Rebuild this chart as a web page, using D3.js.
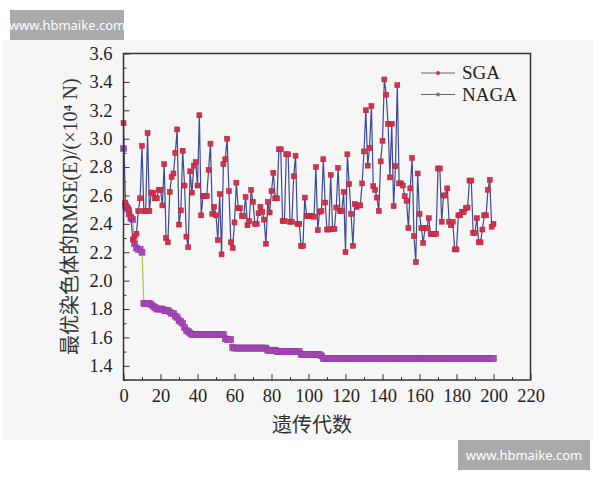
<!DOCTYPE html>
<html><head><meta charset="utf-8">
<script src="https://cdn.jsdelivr.net/npm/d3@7"></script>
<style>body{margin:0;background:#fff}</style>
</head><body>
<script>
const generations = d3.range(0, 201);
const sgaValues = [
3.11,2.55,2.52,2.50,2.45,2.29,2.31,2.33,2.49,2.58,
2.95,2.49,2.49,3.04,2.49,2.62,2.62,2.58,2.58,2.64,
2.64,2.53,2.82,2.30,2.27,2.625,2.73,2.755,2.90,3.065,
2.395,2.495,2.915,2.67,2.31,2.235,2.77,2.62,2.81,2.835,
2.67,3.165,2.46,2.595,2.595,2.595,2.78,2.965,2.47,2.52,
2.46,2.285,2.61,2.185,2.82,2.855,3.0,2.63,2.27,2.23,
2.41,2.69,2.51,2.51,2.455,2.455,2.59,2.39,2.42,2.64,
2.555,2.40,2.40,2.475,2.52,2.485,2.43,2.26,2.555,2.48,
2.63,2.76,2.58,2.58,2.925,2.925,2.42,2.42,2.89,2.89,
2.415,2.415,2.735,2.88,2.40,2.40,2.245,2.245,2.585,2.455,
2.455,2.455,2.455,2.45,2.80,2.355,2.485,2.49,2.855,2.55,
2.36,2.36,2.745,2.365,2.365,2.515,2.795,2.49,2.49,2.625,
2.20,2.89,2.68,2.47,2.245,2.54,2.52,2.53,2.53,2.685,
2.91,3.20,2.81,2.935,3.23,2.665,2.64,2.585,2.49,2.84,
2.985,3.417,3.31,3.105,2.727,3.105,2.525,2.806,3.377,2.685,
2.685,2.67,2.595,2.563,2.37,2.65,2.865,2.313,2.13,2.755,
2.47,2.37,2.265,2.37,2.37,2.44,2.33,2.33,2.33,2.33,
2.79,2.79,2.415,2.60,2.60,2.65,2.415,2.39,2.415,2.22,
2.22,2.46,2.46,2.485,2.485,2.51,2.515,2.705,2.705,2.336,
2.336,2.44,2.27,2.27,2.36,2.46,2.46,2.64,2.71,2.38,
2.40];
const nagaValues = [
2.93,2.53,2.51,2.47,2.44,2.43,2.26,2.23,2.22,2.22,
2.20,1.84,1.84,1.84,1.84,1.83,1.82,1.81,1.80,1.80,
1.80,1.80,1.79,1.79,1.79,1.78,1.77,1.77,1.75,1.74,
1.72,1.71,1.70,1.67,1.65,1.64,1.63,1.62,1.62,1.62,
1.62,1.62,1.62,1.62,1.62,1.62,1.62,1.62,1.62,1.62,
1.62,1.62,1.62,1.62,1.62,1.59,1.585,1.585,1.585,1.53,
1.525,1.525,1.525,1.525,1.525,1.525,1.525,1.525,1.525,1.525,
1.525,1.525,1.525,1.525,1.525,1.525,1.525,1.525,1.51,1.51,
1.51,1.51,1.51,1.50,1.50,1.50,1.50,1.50,1.50,1.50,
1.50,1.50,1.50,1.50,1.50,1.50,1.48,1.48,1.48,1.48,
1.48,1.48,1.48,1.48,1.48,1.48,1.48,1.47,1.452,1.452,
1.452,1.452,1.452,1.452,1.452,1.452,1.452,1.452,1.452,1.452,
1.452,1.452,1.452,1.452,1.452,1.452,1.452,1.452,1.452,1.452,
1.452,1.452,1.452,1.452,1.452,1.452,1.452,1.452,1.452,1.452,
1.452,1.452,1.452,1.452,1.452,1.452,1.452,1.452,1.452,1.452,
1.452,1.452,1.452,1.452,1.452,1.452,1.452,1.452,1.452,1.452,
1.452,1.452,1.452,1.452,1.452,1.452,1.452,1.452,1.452,1.452,
1.452,1.452,1.452,1.452,1.452,1.452,1.452,1.452,1.452,1.452,
1.452,1.452,1.452,1.452,1.452,1.452,1.452,1.452,1.452,1.452,
1.452,1.452,1.452,1.452,1.452,1.452,1.452,1.452,1.452,1.452,
1.452];
const seriesNames = ["SGA", "NAGA"];
const xTicks = [0,20,40,60,80,100,120,140,160,180,200,220];
const yTicks = [1.4,1.6,1.8,2.0,2.2,2.4,2.6,2.8,3.0,3.2,3.4,3.6];
const xTitle = "遗传代数";
const yTitle = "最优染色体的RMSE(E)/(×10⁴ N)";
const watermark = "www.hbmaike.com";

const W = 600, H = 480;
const svg = d3.select("body").append("svg").attr("width", W).attr("height", H);
svg.append("rect").attr("x",3).attr("y",40).attr("width",590).attr("height",400).attr("fill","#f6f6f6");

const L = 123.5, R = 530.5, T = 53.5, B = 380;
const x = d3.scaleLinear().domain([0,220]).range([L,R]);
const y = d3.scaleLinear().domain([1.3,3.6]).range([B,T]);
const serif = "'Liberation Serif','Times New Roman',serif";

// minor ticks
const g = svg.append("g");
g.append("g").attr("transform",`translate(0,${B})`)
  .call(d3.axisBottom(x).tickValues(d3.range(10,220,20)).tickSize(-3).tickFormat(""))
  .call(a=>{a.select(".domain").remove(); a.selectAll("line").attr("stroke","#333");});
g.append("g").attr("transform",`translate(${L},0)`)
  .call(d3.axisLeft(y).tickValues(d3.range(1.3,3.6,0.2)).tickSize(-3).tickFormat(""))
  .call(a=>{a.select(".domain").remove(); a.selectAll("line").attr("stroke","#333");});

const xa = g.append("g").attr("transform",`translate(0,${B})`)
  .call(d3.axisBottom(x).tickValues(xTicks).tickSize(-6).tickPadding(9).tickFormat(d3.format("d")));
const ya = g.append("g").attr("transform",`translate(${L},0)`)
  .call(d3.axisLeft(y).tickValues(yTicks).tickSize(-6).tickPadding(11).tickFormat(d3.format(".1f")));
[xa,ya].forEach(a=>{
  a.select(".domain").remove();
  a.selectAll("line").attr("stroke","#333");
  a.selectAll("text").attr("font-family",serif).attr("font-size",18.5).attr("fill","#222");
});

// lines
const sgaData = generations.map((gen,i)=>({gen, v:sgaValues[i]}));
const nagaData = generations.map((gen,i)=>({gen, v:nagaValues[i]}));
const line = d3.line().x(d=>x(d.gen)).y(d=>y(d.v));

svg.append("path").datum(nagaData).attr("d",line).attr("fill","none").attr("stroke","#b5c838").attr("stroke-width",1.2);
svg.append("g").selectAll("rect").data(nagaData).join("rect")
  .attr("x",d=>x(d.gen)-3).attr("y",d=>y(d.v)-3).attr("width",6).attr("height",6)
  .attr("fill","#a848b8").attr("stroke","#8c3a9c").attr("stroke-width",0.5);

svg.append("path").datum(sgaData).attr("d",line).attr("fill","none").attr("stroke","#3e4a95").attr("stroke-width",1.2);
svg.append("g").selectAll("rect").data(sgaData).join("rect")
  .attr("x",d=>x(d.gen)-2.5).attr("y",d=>y(d.v)-2.5).attr("width",5).attr("height",5)
  .attr("fill","#d6304a").attr("stroke","#a82038").attr("stroke-width",0.5);

// frame
svg.append("rect").attr("x",L).attr("y",T).attr("width",R-L).attr("height",B-T)
  .attr("fill","none").attr("stroke","#333").attr("stroke-width",1.5);

// legend
const lg = svg.append("g");
seriesNames.forEach((name,i)=>{
  const ly = 73 + i*21.5;
  lg.append("line").attr("x1",421).attr("x2",455).attr("y1",ly).attr("y2",ly).attr("stroke","#666").attr("stroke-width",1.2);
  lg.append("circle").attr("cx",438).attr("cy",ly).attr("r",2).attr("fill",i===0?"#c8304a":"#777");
  lg.append("text").attr("x",462).attr("y",ly+6).text(name)
    .attr("font-family",serif).attr("font-size",19).attr("fill","#222");
});

// titles
svg.append("text").attr("x",(L+R)/2 - 15).attr("y",432).attr("text-anchor","middle")
  .attr("font-family","'Noto Sans CJK SC',sans-serif").attr("font-size",20).attr("fill","#333").text(xTitle);
svg.append("text").attr("transform",`translate(77,${(T+B)/2}) rotate(-90)`).attr("text-anchor","middle")
  .attr("font-family",serif+",'Noto Sans CJK SC'").attr("font-size",20).attr("fill","#333").text(yTitle);

// watermarks
[[10,10,114,30],[458,440,132,30]].forEach(([wx,wy,ww,wh])=>{
  svg.append("rect").attr("x",wx).attr("y",wy).attr("width",ww).attr("height",wh).attr("fill","#aaaaaa");
  svg.append("text").attr("x",wx+ww/2).attr("y",wy+wh/2+4.5).attr("text-anchor","middle")
    .attr("font-family","'Noto Sans',sans-serif").attr("font-size",13).attr("fill","#fff").text(watermark);
});
</script>
</body></html>
